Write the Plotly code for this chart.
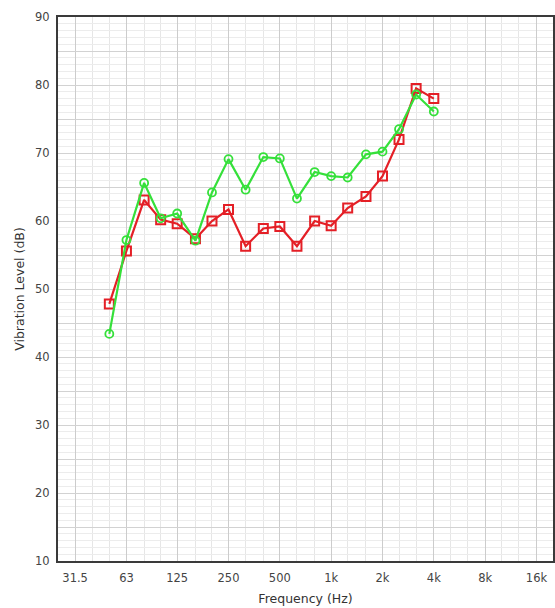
import math
import plotly.graph_objects as go

freqs = [50, 63, 80, 100, 125, 160, 200, 250, 315, 400, 500, 630, 800,
         1000, 1250, 1600, 2000, 2500, 3150, 4000]
red_levels = [47.8, 55.6, 63.1, 60.2, 59.6, 57.4, 60.0, 61.7, 56.3, 58.9, 59.2,
              56.3, 60.0, 59.3, 61.9, 63.6, 66.6, 72.0, 79.5, 78.0]
green_levels = [43.4, 57.2, 65.6, 60.4, 61.1, 57.1, 64.2, 69.1, 64.6, 69.4, 69.2,
                63.3, 67.2, 66.6, 66.4, 69.8, 70.2, 73.5, 78.6, 76.1]

octave_ticks = [31.5, 63, 125, 250, 500, 1000, 2000, 4000, 8000, 16000]
octave_labels = ["31.5", "63", "125", "250", "500", "1k", "2k", "4k", "8k", "16k"]
third_octaves = [25, 31.5, 40, 50, 63, 80, 100, 125, 160, 200, 250, 315, 400, 500,
                 630, 800, 1000, 1250, 1600, 2000, 2500, 3150, 4000, 5000, 6300,
                 8000, 10000, 12500, 16000, 20000]
y_ticks = [10, 15, 20, 25, 30, 35, 40, 45, 50, 55, 60, 65, 70, 75, 80, 85, 90]
y_labels = ["10", "", "20", "", "30", "", "40", "", "50", "", "60", "", "70", "",
            "80", "", "90"]

RED = "#e41f26"
GREEN = "#35e03a"

fig = go.Figure()
fig.add_trace(go.Scatter(
    x=freqs, y=red_levels, mode="lines+markers",
    line=dict(color=RED, width=2.2),
    marker=dict(symbol="square-open", size=9, color=RED, line=dict(width=2)),
    showlegend=False, cliponaxis=False))
fig.add_trace(go.Scatter(
    x=freqs, y=green_levels, mode="lines+markers",
    line=dict(color=GREEN, width=2.2),
    marker=dict(symbol="circle-open", size=8, color=GREEN, line=dict(width=1.8)),
    showlegend=False, cliponaxis=False))

fig.update_layout(
    width=555, height=608,
    margin=dict(l=58, r=2, t=17, b=47, autoexpand=False),
    paper_bgcolor="white", plot_bgcolor="white",
    font=dict(family="DejaVu Sans, Verdana, sans-serif", size=12, color="#333333"),
    xaxis=dict(
        type="log", range=[math.log10(25), math.log10(20000)],
        tickmode="array", tickvals=octave_ticks, ticktext=octave_labels,
        showgrid=True, gridcolor="#cccccc", gridwidth=1.3,
        minor=dict(tickmode="array", tickvals=third_octaves, showgrid=True,
                   gridcolor="#e6e6e6", gridwidth=1),
        showline=True, linecolor="#3a3a3a", linewidth=2, mirror=True,
        ticks="", ticklabelstandoff=5, automargin=False,
        tickfont=dict(size=11.5, color="#444444"),
        title=dict(text="Frequency (Hz)", font=dict(size=12.5, color="#333333"),
                   standoff=10),
        zeroline=False,
    ),
    yaxis=dict(
        range=[10, 90], tickmode="array", tickvals=y_ticks, ticktext=y_labels,
        showgrid=True, gridcolor="#d2d2d2", gridwidth=1.3,
        minor=dict(dtick=1, showgrid=True, gridcolor="#ececec", gridwidth=1),
        showline=True, linecolor="#3a3a3a", linewidth=2, mirror=True,
        ticks="", ticklabelstandoff=4, automargin=False,
        tickfont=dict(size=11.5, color="#444444"),
        title=dict(text="Vibration Level (dB)", font=dict(size=12.5, color="#333333"),
                   standoff=8),
        zeroline=False,
    ),
)

fig.write_html("out.html", config={"displayModeBar": False},
               post_script="document.body.style.margin='0';document.body.style.overflow='hidden';")
